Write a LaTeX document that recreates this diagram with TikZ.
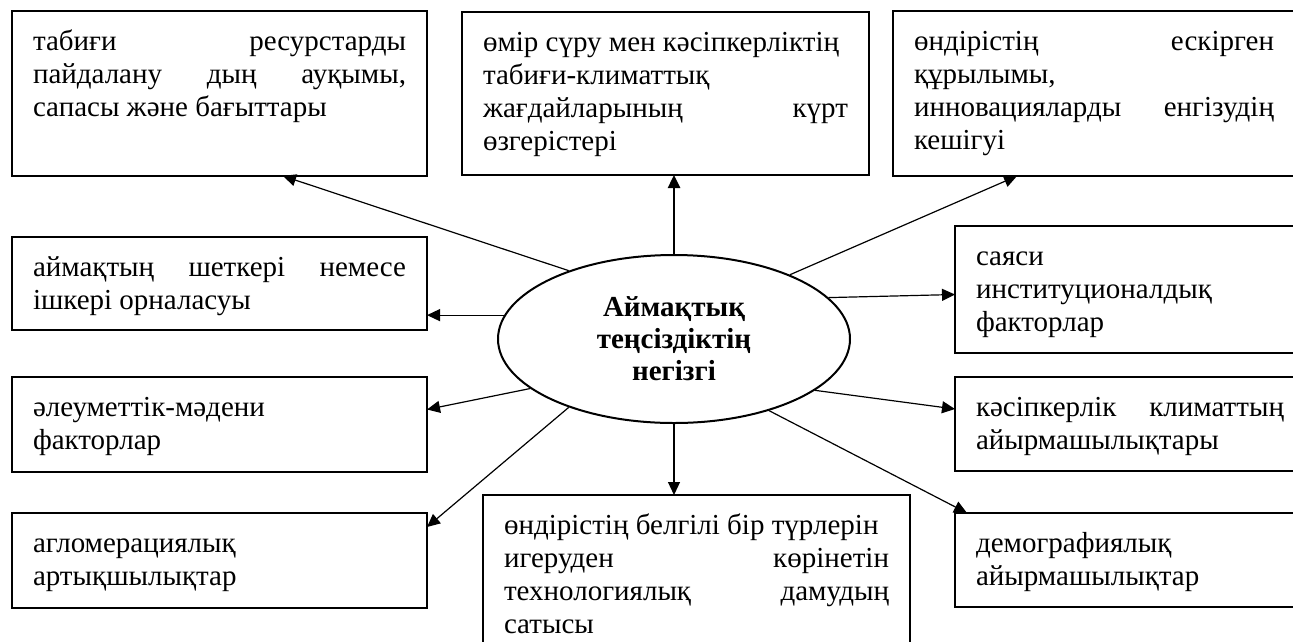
\documentclass[tikz,border=0pt]{standalone}
\usepackage{fontspec}
\setmainfont{Liberation Serif}
\usetikzlibrary{shapes.geometric,arrows.meta}
\newcommand\factortext[3]{\parbox[t][#2][t]{#1}{\strut #3}}
\tikzset{
  factorpic/.style={
    x=1pt,y=-1pt
    ,font=\fontsize{29}{33}\selectfont
  }
  ,factor/.style={draw=black,line width=2pt,inner xsep=21pt,inner ysep=16pt
    ,anchor=north west,outer sep=0pt}
  ,core/.style={ellipse,draw=black,line width=2pt
    ,minimum width=352pt,minimum height=168pt,inner sep=0pt
    ,align=center,font=\fontsize{29}{32}\selectfont\bfseries}
  ,link/.style={line width=1.2pt,-{Triangle[length=13pt,width=12pt]}}
  ,mainlink/.style={link,line width=2.5pt}
}
\begin{document}
\begin{tikzpicture}[factorpic]
    \useasboundingbox (0,0) rectangle (1293,641);
    \clip (0,0) rectangle (1293,641);

    % centre
    \node[core] (core) at (674,339) {Аймақтық\\ теңсіздіктің\\ негізгі};

    % top row
    \node[factor] (resources) at (12,11) {\factortext{373pt}{133pt}{табиғи\hfill ресурстарды\\
      пайдалану\hfill дың\hfill ауқымы,\\ сапасы және бағыттары}};
    \node[factor] (life) at (462,12) {\factortext{365pt}{131pt}{өмір сүру мен кәсіпкерліктің\\
      табиғи-климаттық\\ жағдайларының\hfill күрт\\ өзгерістері}};
    \node[factor] (production) at (893,11) {\factortext{360pt}{133pt}{өндірістің\hfill ескірген\\
      құрылымы,\\ инновацияларды\hfill енгізудің\\ кешігуі}};

    % left column
    \node[factor] (location) at (12,237) {\factortext{373pt}{61pt}{аймақтың\hfill шеткері\hfill немесе\\
      ішкері орналасуы}};
    \node[factor] (social) at (12,377) {\factortext{373pt}{63pt}{әлеуметтік-мәдени\\ факторлар}};
    \node[factor] (agglomeration) at (12,513) {\factortext{373pt}{63pt}{агломерациялық\\ артықшылықтар}};

    % bottom
    \node[factor] (technology) at (483,495) {\factortext{385pt}{140pt}{өндірістің белгілі бір түрлерін\\
      игеруден\hfill көрінетін\\ технологиялық\hfill дамудың\\ сатысы}};

    % right column
    \node[factor] (political) at (955,226) {\factortext{308pt}{95pt}{саяси\\ институционалдық\\ факторлар}};
    \node[factor] (business) at (955,377) {\factortext{308pt}{62pt}{кәсіпкерлік\hfill климаттың\\
      айырмашылықтары}};
    \node[factor] (demography) at (955,513) {\factortext{308pt}{62pt}{демографиялық\\ айырмашылықтар}};

    % arrows
    \draw[link] (core.147) -- ([xshift=271pt]resources.south west);
    \draw[mainlink] (core.north) -- (core.north |- life.south);
    \draw[link] (core.29) -- ([xshift=124pt]production.south west);
    \draw[link] (core.172) -- (core.172 -| location.east);
    \draw[link] (core.199) -- ([yshift=15pt]social.east);
    \draw[link] (core.213) -- ([yshift=-14pt]agglomeration.north east);
    \draw[link] (core.south) -- (core.south |- technology.north);
    \draw[link] (core.15) -- ([yshift=-5pt]political.west);
    \draw[link] (core.-20) -- ([yshift=15pt]business.west);
    \draw[link] (core.-37) -- ([xshift=12pt]demography.north west);
\end{tikzpicture}
\end{document}
